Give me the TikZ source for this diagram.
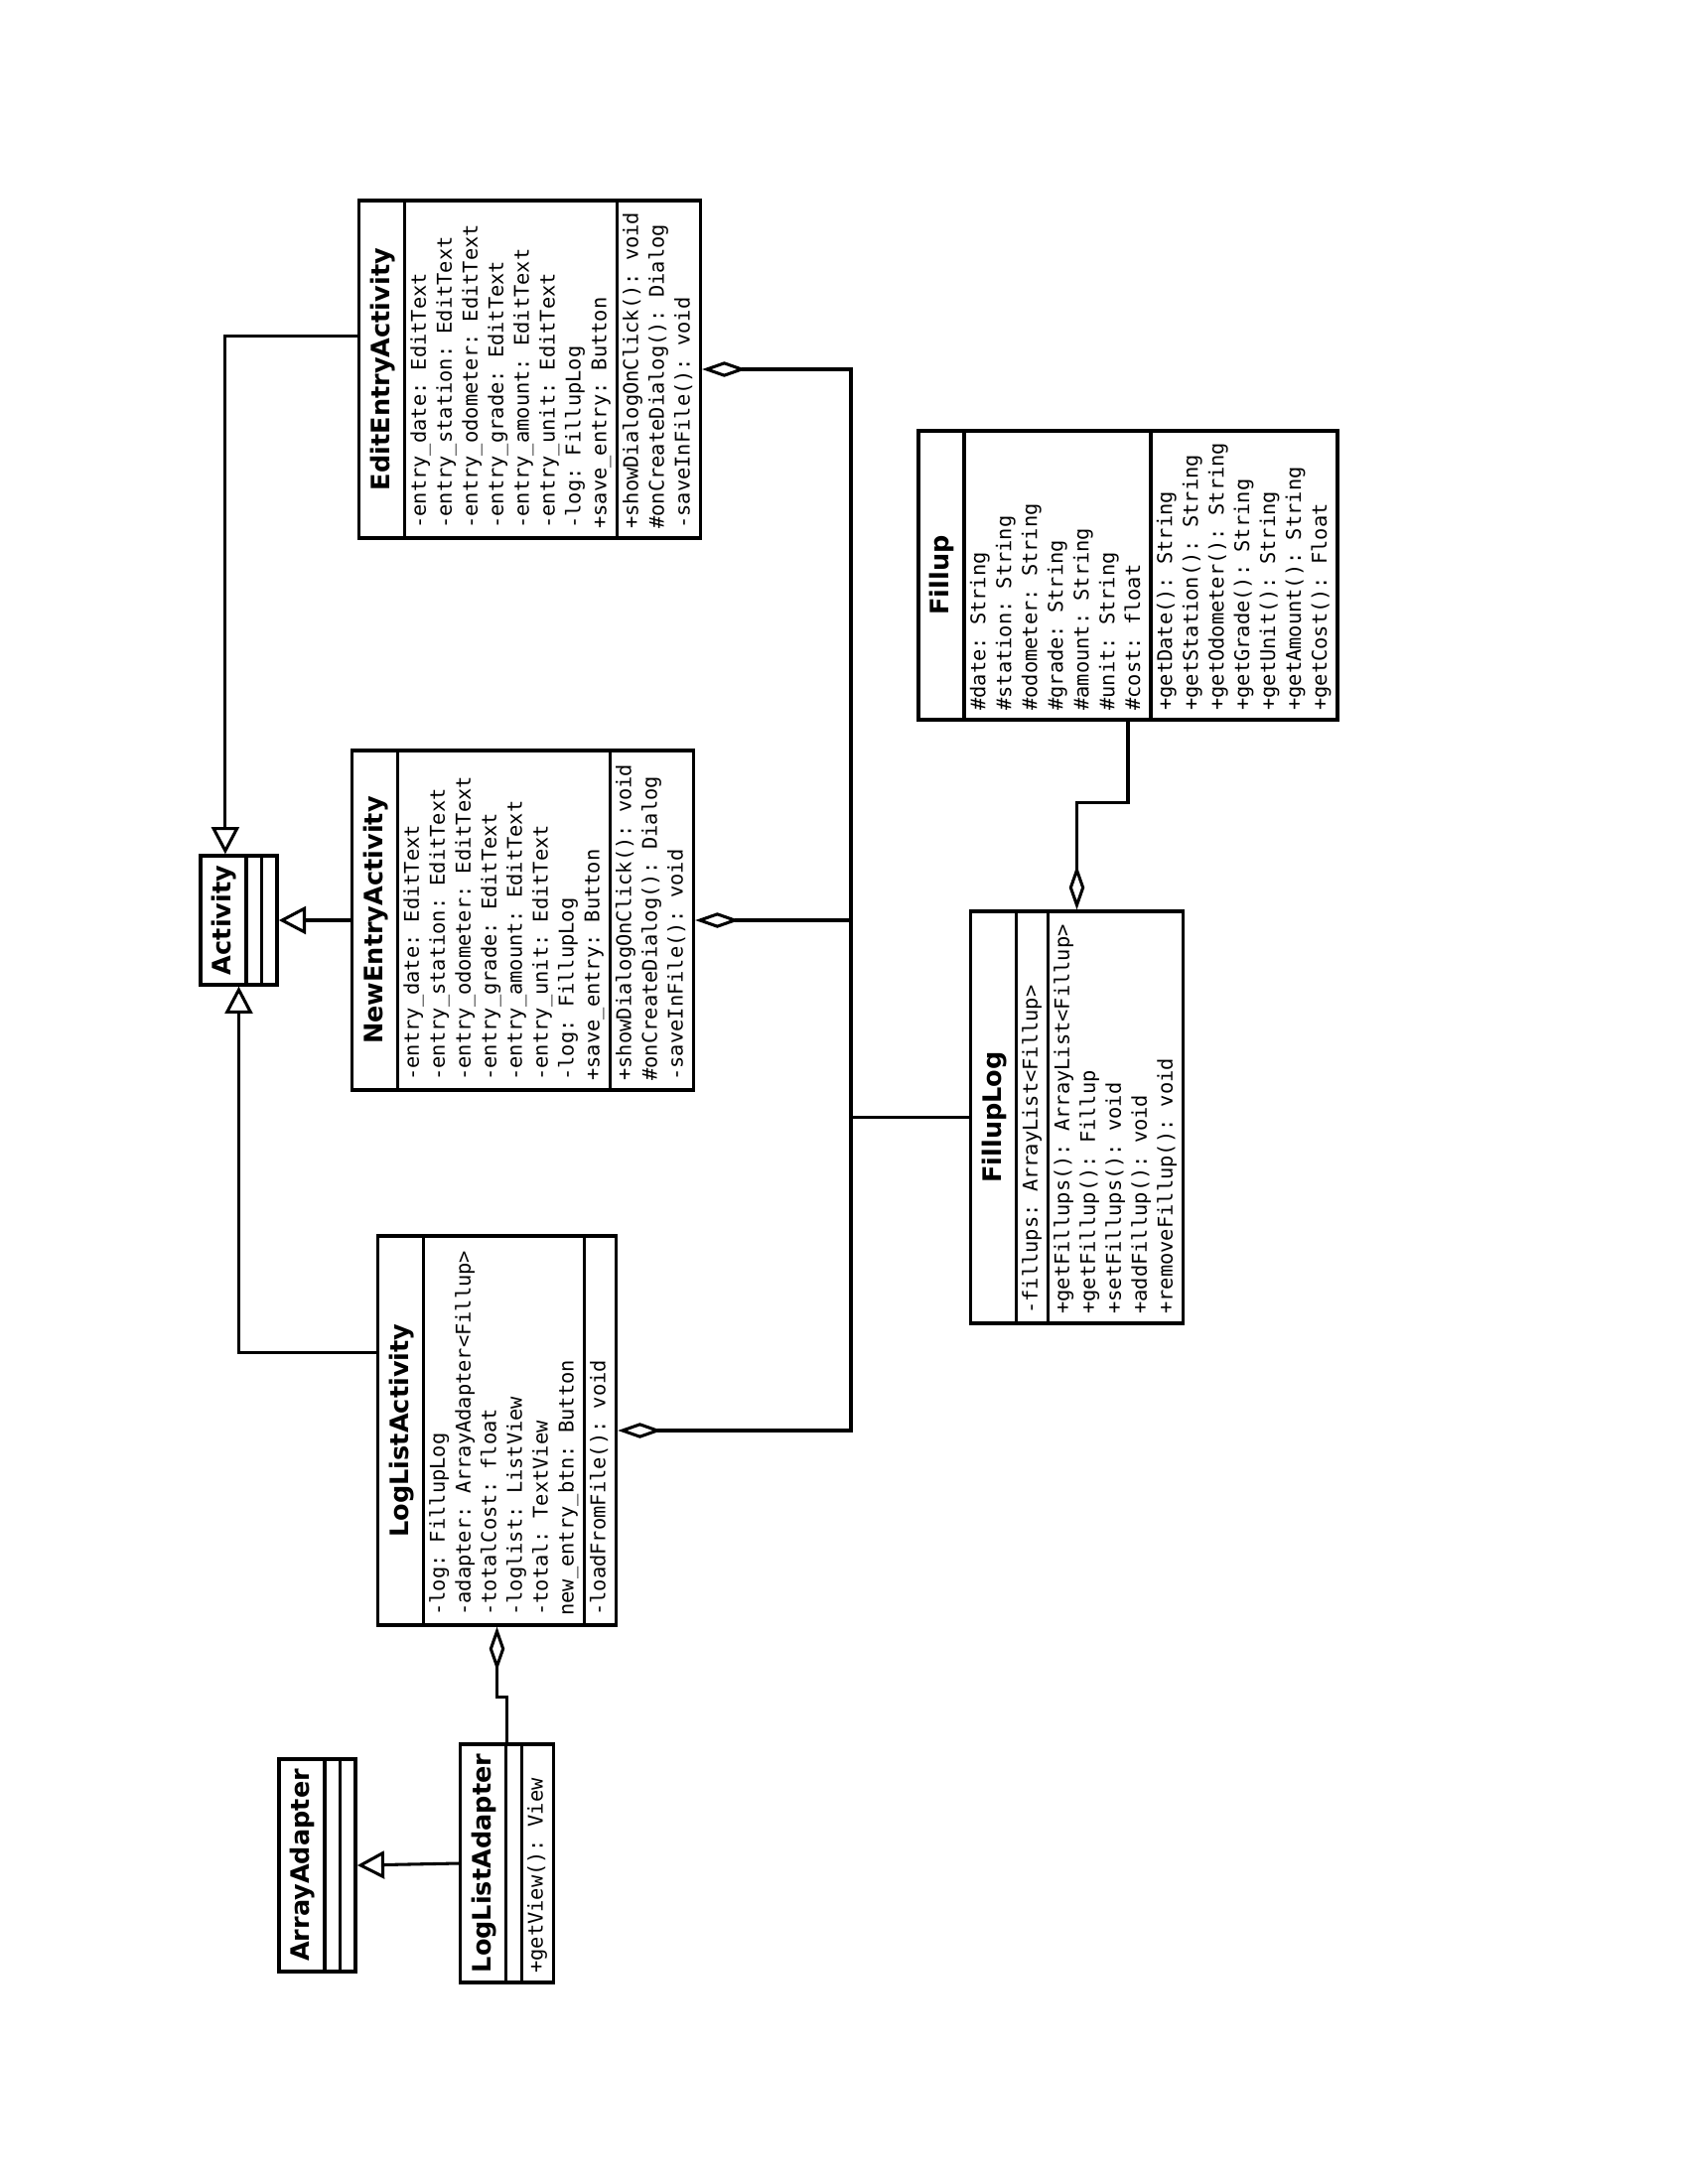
\documentclass[tikz,border=0pt]{standalone}
\usepackage{fontspec}
\setmainfont{DejaVu Sans}
\setmonofont{DejaVu Sans Mono}
\usetikzlibrary{shapes.multipart, arrows.meta}

\newcommand{\cname}[1]{\rule[-4.4pt]{0pt}{14.4pt}{\rmfamily\bfseries\fontsize{9.2}{11}\selectfont #1}}
\newcommand{\mlist}[1]{\begin{tabular}{@{}l@{}}#1\end{tabular}}
\newcommand{\nomem}{\rule{0pt}{3.4pt}}

\begin{document}
\begin{tikzpicture}[
        x=0.36pt, y=-0.36pt,
        umlclass/.style={draw, rectangle split, rectangle split parts=3,
                    rotate=90, line width=1.2pt, inner xsep=3.4pt, inner ysep=0.5pt,
                    rectangle split part align={center,left,left},
                    font=\fontsize{7.33}{9.35}\selectfont\ttfamily},
        gen/.style={-{Triangle[open,length=9.8pt,width=10pt]}, line width=1.1pt},
        agg/.style={{Diamond[open,length=16pt,width=5.6pt]}-, line width=1.1pt},
    ]
    \useasboundingbox (0,0) rectangle (1700,2200);

    % --- Activities ---
    \node[umlclass, minimum width=122.4pt] (edit) at (533.5,372) {\cname{EditEntryActivity}
        \nodepart{two}\mlist{-entry\_date: EditText\\-entry\_station: EditText\\-entry\_odometer: EditText\\-entry\_grade: EditText\\-entry\_amount: EditText\\-entry\_unit: EditText\\-log: FillupLog\\+save\_entry: Button}
        \nodepart{three}\mlist{+showDialogOnClick(): void\\\#onCreateDialog(): Dialog\\-saveInFile(): void}};
    \node[umlclass, minimum width=123.1pt] (new) at (526.5,927) {\cname{NewEntryActivity}
        \nodepart{two}\mlist{-entry\_date: EditText\\-entry\_station: EditText\\-entry\_odometer: EditText\\-entry\_grade: EditText\\-entry\_amount: EditText\\-entry\_unit: EditText\\-log: FillupLog\\+save\_entry: Button}
        \nodepart{three}\mlist{+showDialogOnClick(): void\\\#onCreateDialog(): Dialog\\-saveInFile(): void}};
    \node[umlclass, minimum width=141.1pt] (loglist) at (500.5,1441) {\cname{LogListActivity}
        \nodepart{two}\mlist{-log: FillupLog\\-adapter: ArrayAdapter<Fillup>\\-totalCost: float\\-loglist: ListView\\-total: TextView\\new\_entry\_btn: Button}
        \nodepart{three}\mlist{-loadFromFile(): void}};
    \node[umlclass, minimum width=46.8pt] (act) at (240.5,927) {\cname{Activity}
        \nodepart{two}\nomem \nodepart{three}\nomem};

    % --- Adaptery ---
    \node[umlclass, minimum width=86.4pt] (adapter) at (510.5,1877) {\cname{LogListAdapter}
        \nodepart{two}\nomem \nodepart{three}\mlist{+getView(): View}};
    \node[umlclass, minimum width=77pt] (array) at (319.5,1879) {\cname{ArrayAdapter}
        \nodepart{two}\nomem \nodepart{three}\nomem};

    % --- Model ---
    \node[umlclass, minimum width=104.8pt] (fillup) at (1136,579.5) {\cname{Fillup}
        \nodepart{two}\mlist{\#date: String\\\#station: String\\\#odometer: String\\\#grade: String\\\#amount: String\\\#unit: String\\\#cost: float}
        \nodepart{three}\mlist{+getDate(): String\\+getStation(): String\\+getOdometer(): String\\+getGrade(): String\\+getUnit(): String\\+getAmount(): String\\+getCost(): Float}};
    \node[umlclass, minimum width=149.4pt] (fillog) at (1084.5,1125.5) {\cname{FillupLog}
        \nodepart{two}\mlist{-fillups: ArrayList<Fillup>}
        \nodepart{three}\mlist{+getFillups(): ArrayList<Fillup>\\+getFillup(): Fillup\\+setFillups(): void\\+addFillup(): void\\+removeFillup(): void}};

    % --- Strzalki ---
    \coordinate (bus) at (857,1125.5);
    \draw[gen] ([yshift=12.2pt]edit.north) -| ([xshift=-4.9pt]act.east);
    \draw[gen] (new.north) -- (act.south);
    \draw[gen] ([yshift=28.1pt]loglist.north) -| (act.west);
    \draw[gen] (adapter.north) -- (array.south);
    \draw[agg] (edit.south) -| (bus) -- (fillog.north);
    \draw[agg] (new.south) -| (bus) -- (fillog.north);
    \draw[agg] (loglist.south) -| (bus) -- (fillog.north);
    \draw[agg] (loglist.west) -- ++(0,71) -| (adapter.east);
    \draw[agg] (fillog.east) -- ++(0,-108) -| (fillup.west);
\end{tikzpicture}
\end{document}
